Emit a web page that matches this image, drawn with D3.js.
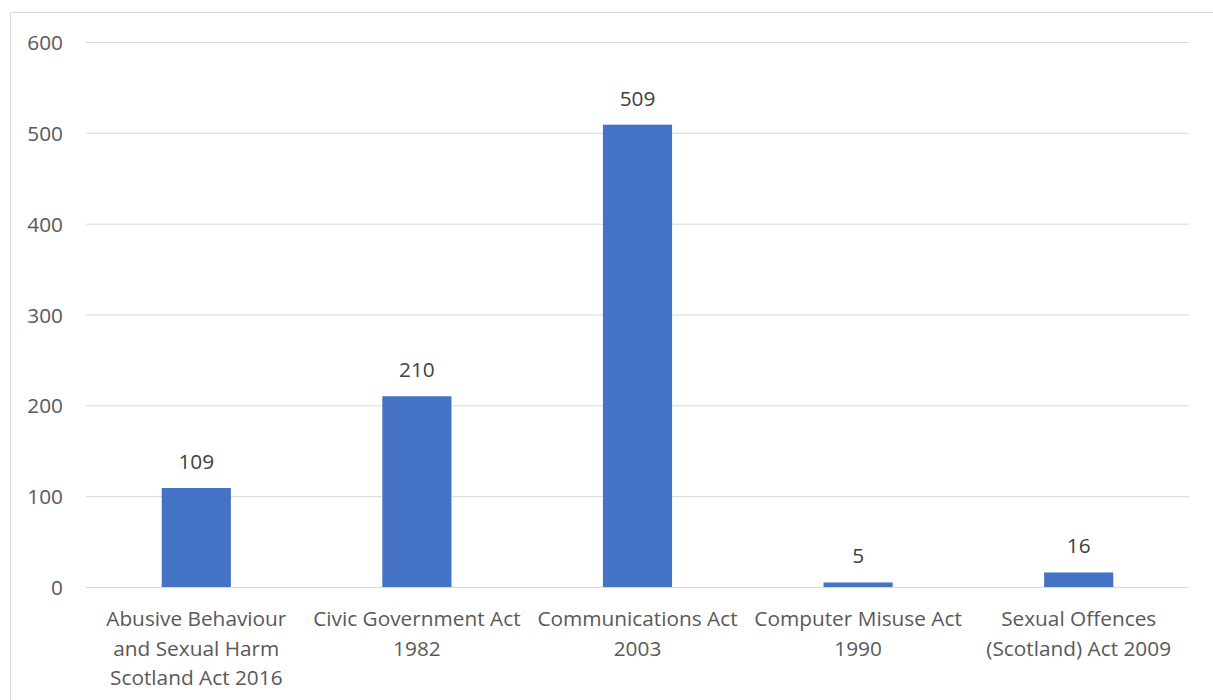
<!DOCTYPE html>
<html><head><meta charset="utf-8">
<script src="https://cdn.jsdelivr.net/npm/d3@7"></script>
<style>body{margin:0;background:#fff;} svg{display:block;}</style>
</head><body>
<svg id="c" width="1213" height="700"></svg>
<script>
const categories = [
  ["Abusive Behaviour", "and Sexual Harm", "Scotland Act 2016"],
  ["Civic Government Act", "1982"],
  ["Communications Act", "2003"],
  ["Computer Misuse Act", "1990"],
  ["Sexual Offences", "(Scotland) Act 2009"]
];
const values = [109, 210, 509, 5, 16];
const yTicks = [0, 100, 200, 300, 400, 500, 600];

(function () {
const svg = d3.select("#c");
const font = "'Open Sans', 'Noto Sans', sans-serif";
const fs = "20.8px";
svg.append("rect").attr("x", 10.5).attr("y", 12.5).attr("width", 1220).attr("height", 700)
  .attr("fill", "#fff").attr("stroke", "#d9d9d9").attr("stroke-width", 1);

const pl = 86, pr = 1189, pt = 42, pb = 587;
const x = d3.scaleBand().domain(d3.range(categories.length)).range([pl, pr]).paddingInner(0.6865).paddingOuter(0.6865/2);
const y = d3.scaleLinear().domain([0, 600]).range([pb, pt]);

const yAxis = d3.axisLeft(y).tickValues(yTicks).tickSize(-(pr - pl)).tickPadding(23);
const gy = svg.append("g").attr("transform", `translate(${pl},0)`).call(yAxis);
gy.select(".domain").remove();
gy.selectAll(".tick line").attr("stroke", "#d9d9d9").attr("stroke-width", 1);
gy.selectAll(".tick text").attr("fill", "#595959").attr("dy", "0.36em").style("font-family", font).style("font-size", fs);

svg.append("g").selectAll("rect").data(values).join("rect")
  .attr("x", (d, i) => x(i)).attr("width", x.bandwidth())
  .attr("y", d => y(d)).attr("height", d => y(0) - y(d))
  .attr("fill", "#4472c4");

svg.append("g").selectAll("text").data(values).join("text")
  .attr("x", (d, i) => x(i) + x.bandwidth() / 2).attr("y", d => y(d) - 19)
  .attr("text-anchor", "middle").attr("fill", "#404040")
  .style("font-family", font).style("font-size", fs).text(d => d);

const xl = svg.append("g");
categories.forEach((lines, i) => {
  const t = xl.append("text").attr("text-anchor", "middle").attr("fill", "#595959")
    .style("font-family", font).style("font-size", fs);
  lines.forEach((ln, j) => {
    t.append("tspan").attr("x", x(i) + x.bandwidth() / 2).attr("y", 626 + j * 29.5).text(ln);
  });
});
})();
</script>
</body></html>
